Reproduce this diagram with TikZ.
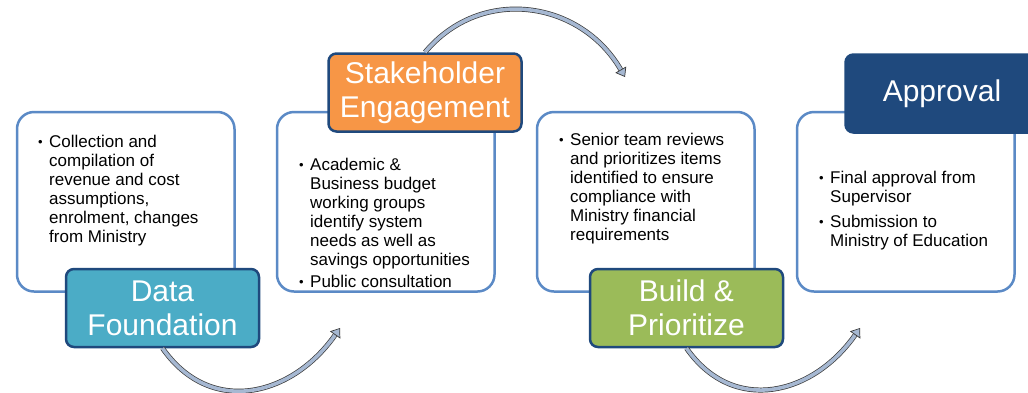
\documentclass[tikz,border=0pt]{standalone}
\usepackage{fontspec}
\setmainfont{Liberation Sans}
\usetikzlibrary{positioning}
\usetikzlibrary{arrows.meta}
\definecolor{panelline}{HTML}{5B8AC6}
\definecolor{stageline}{HTML}{1F497D}
\definecolor{datafill}{HTML}{4BACC6}
\definecolor{stakefill}{HTML}{F79646}
\definecolor{buildfill}{HTML}{9BBB59}
\definecolor{arrowfill}{HTML}{A6B8D2}
\definecolor{arrowline}{HTML}{3A3A3A}
\newcommand{\bul}{\makebox[11pt][l]{\raisebox{0.5pt}{\fontsize{13}{13}\selectfont\textbullet}}}
\newcommand{\ind}{\hspace*{11pt}}

\begin{document}
\begin{tikzpicture}[x=1pt,y=1pt,node distance=42.5pt,
  panel/.style={draw=panelline,line width=2.5pt,rounded corners=17pt,fill=white,minimum width=217.5pt,minimum height=179.5pt,outer sep=0pt,inner sep=0pt},
  stage/.style={draw=stageline,line width=2.5pt,rounded corners=8pt,text=white,align=center,minimum width=193pt,minimum height=78pt,inner sep=0pt,font=\fontsize{30}{34}\selectfont},
  notes/.style={anchor=north west,inner sep=0pt,align=left,font=\fontsize{17}{19}\selectfont},
  flow/.style={draw=arrowline,line width=0.7pt,double=arrowfill,double distance=3.6pt,-{Triangle[length=8.5pt,width=12.5pt,fill=arrowfill]}}]
  \useasboundingbox (0,0) rectangle (1028,-392);
  \clip (0,0) rectangle (1028,-392);

  % white panels
  \node[panel] (p1) at (125.75,-201.75) {};
  \node[panel,right=of p1] (p2) {};
  \node[panel,right=of p2] (p3) {};
  \node[panel,right=of p3] (p4) {};

  % panel texts
  \node[notes] (n1) at (38,-134.5) {\bul Collection and\\ \ind compilation of\\ \ind revenue and cost\\ \ind assumptions,\\ \ind enrolment, changes\\ \ind from Ministry};
  \node[notes] (n2) at (299,-157.5) {\bul Academic \&\\ \ind Business budget\\ \ind working groups\\ \ind identify system\\ \ind needs as well as\\ \ind savings opportunities\\[3pt] \bul Public consultation};
  \node[notes] (n3) at (559,-132.5) {\bul Senior team reviews\\ \ind and prioritizes items\\ \ind identified to ensure\\ \ind compliance with\\ \ind Ministry financial\\ \ind requirements};
  \node[notes] (n4) at (819,-170.5) {\bul Final approval from\\ \ind Supervisor\\[6pt] \bul Submission to\\ \ind Ministry of Education};

  % stage boxes
  \node[stage,fill=datafill] (data) at (162.5,-308) {Data\\Foundation};
  \node[stage,fill=stakefill] (stake) at (425,-92.5) {Stakeholder\\Engagement};
  \node[stage,fill=buildfill] (build) at (686.5,-308) {Build \&\\Prioritize};
  \node[stage,fill=stageline] (appr) at (942,-93.5) {Approval};

  % curved arrows
  \coordinate (t1) at (340,-328);
  \coordinate (t2) at (625,-77);
  \coordinate (t3) at (860,-328);
  \draw[flow] (data.south) to[out=-55,in=-125,looseness=1.2] (t1);
  \draw[flow] (stake.north) to[out=50,in=120,looseness=1.12] (t2);
  \draw[flow] (build.south) to[out=-55,in=-125,looseness=1.2] (t3);
\end{tikzpicture}
\end{document}
